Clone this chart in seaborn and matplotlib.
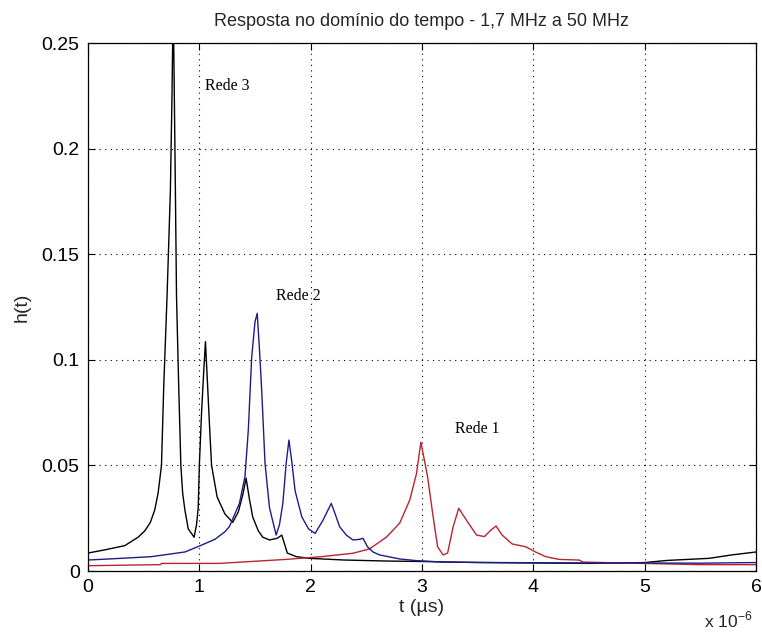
import numpy as np
import pandas as pd
import matplotlib
matplotlib.use("Agg")
import matplotlib.pyplot as plt
import seaborn as sns

# Rede 3 (black)
t_rede3 = [0.00, 0.15, 0.33, 0.45, 0.51, 0.56, 0.60, 0.63, 0.66, 0.68, 0.71, 0.74, 0.755, 0.765,
           0.775, 0.785, 0.795, 0.815, 0.834, 0.85, 0.87, 0.90, 0.953, 0.975, 0.99, 1.00, 1.02, 1.04,
           1.055, 1.075, 1.095, 1.11, 1.16, 1.23, 1.30, 1.35, 1.39, 1.42, 1.45, 1.48, 1.53, 1.57,
           1.63, 1.70, 1.74, 1.77, 1.79, 1.87, 1.99, 2.30, 2.70, 3.00, 3.50, 4.00, 4.50, 5.00,
           5.20, 5.58, 5.78, 6.00]
h_rede3 = [0.0085, 0.0100, 0.0120, 0.0160, 0.0190, 0.0230, 0.0290, 0.0370, 0.0500, 0.0870, 0.1300,
           0.1800, 0.2270, 0.2700, 0.2270, 0.1800, 0.1300, 0.0870, 0.0500, 0.0370, 0.0290, 0.0200,
           0.0160, 0.0220, 0.0300, 0.0500, 0.0750, 0.0950, 0.1086, 0.0870, 0.0650, 0.0500, 0.0350,
           0.0270, 0.0230, 0.0280, 0.0360, 0.0440, 0.0340, 0.0255, 0.0190, 0.0160, 0.0147, 0.0155,
           0.0170, 0.0120, 0.0085, 0.0068, 0.0060, 0.0052, 0.0047, 0.0045, 0.0040, 0.0038, 0.0036,
           0.0040, 0.0050, 0.0060, 0.0076, 0.0090]

# Rede 2 (blue)
t_rede2 = [0.00, 0.30, 0.57, 0.87, 1.00, 1.14, 1.23, 1.27, 1.36, 1.41, 1.44, 1.47, 1.50, 1.52, 1.54,
           1.56, 1.59, 1.63, 1.69, 1.72, 1.75, 1.78, 1.805, 1.83, 1.86, 1.92, 1.98, 2.04, 2.11,
           2.185, 2.22, 2.26, 2.32, 2.38, 2.44, 2.47, 2.51, 2.56, 2.62, 2.80, 2.95, 3.20, 3.70,
           4.40, 5.00, 5.50, 6.00]
h_rede2 = [0.0052, 0.0060, 0.0068, 0.0090, 0.0118, 0.0150, 0.0186, 0.0210, 0.0320, 0.0447, 0.0668,
           0.1010, 0.1180, 0.1220, 0.1050, 0.0857, 0.0510, 0.0300, 0.0170, 0.0220, 0.0320, 0.0510,
           0.0620, 0.0520, 0.0380, 0.0257, 0.0200, 0.0178, 0.0240, 0.0320, 0.0270, 0.0210, 0.0170,
           0.0147, 0.0150, 0.0155, 0.0115, 0.0090, 0.0076, 0.0057, 0.0049, 0.0042, 0.0040, 0.0038,
           0.0038, 0.0037, 0.0040]

# Rede 1 (red)
t_rede1 = [0.00, 0.65, 0.66, 1.18, 1.78, 2.10, 2.38, 2.53, 2.68, 2.80, 2.89, 2.95, 2.99, 3.05, 3.10,
           3.14, 3.19, 3.23, 3.28, 3.33, 3.40, 3.49, 3.56, 3.62, 3.665, 3.72, 3.81, 3.93, 4.02,
           4.11, 4.23, 4.41, 4.45, 4.80, 5.50, 6.00]
h_rede1 = [0.0025, 0.0030, 0.0036, 0.0036, 0.0055, 0.0068, 0.0084, 0.0105, 0.0160, 0.0227, 0.0336,
           0.0460, 0.0610, 0.0447, 0.0257, 0.0115, 0.0076, 0.0085, 0.0210, 0.0297, 0.0240, 0.0170,
           0.0163, 0.0194, 0.0213, 0.0170, 0.0128, 0.0115, 0.0090, 0.0068, 0.0055, 0.0052, 0.0042,
           0.0038, 0.0030, 0.0030]

series_names = ["Rede 3", "Rede 1", "Rede 2"]
series_colors = ["#000000", "#b82530", "#1c1c8a"]
label_pos = {"Rede 3": (1.05, 0.2296), "Rede 2": (1.686, 0.130), "Rede 1": (3.30, 0.0672)}

xticks = [0, 1, 2, 3, 4, 5, 6]
yticks = [0, 0.05, 0.1, 0.15, 0.2, 0.25]
xtick_labels = ["0", "1", "2", "3", "4", "5", "6"]
ytick_labels = ["0", "0.05", "0.1", "0.15", "0.2", "0.25"]

df = pd.concat([
    pd.DataFrame({"t": t_rede3, "h": h_rede3, "rede": "Rede 3"}),
    pd.DataFrame({"t": t_rede1, "h": h_rede1, "rede": "Rede 1"}),
    pd.DataFrame({"t": t_rede2, "h": h_rede2, "rede": "Rede 2"}),
], ignore_index=True)

sns.set_style("white")
plt.rcParams["font.family"] = ["Liberation Sans", "DejaVu Sans"]

fig = plt.figure(figsize=(7.62, 6.34), dpi=100)
ax = fig.add_axes([88 / 762, 63 / 634, 668 / 762, 528 / 634])

sns.lineplot(data=df, x="t", y="h", hue="rede", hue_order=series_names,
             palette=dict(zip(series_names, series_colors)), estimator=None, sort=False,
             legend=False, linewidth=1.0, ax=ax)

ax.set_xlim(0, 6)
ax.set_ylim(0, 0.25)
ax.set_xticks(xticks)
ax.set_xticklabels(xtick_labels)
ax.set_yticks(yticks)
ax.set_yticklabels(ytick_labels)
ax.grid(True, color="black", linestyle=(0, (1, 4)), linewidth=0.8)
ax.tick_params(direction="in", length=5, width=0.8, top=True, right=True,
               bottom=True, left=True, labelsize=14, colors="black", pad=6)
for s in ax.spines.values():
    s.set_visible(True)
    s.set_color("black")
    s.set_linewidth(0.9)

ax.set_xlabel("t (\u00b5s)", fontsize=14, labelpad=2)
ax.set_ylabel("h(t)", fontsize=14, labelpad=8)
ax.set_title("Resposta no dom\u00ednio do tempo - 1,7 MHz a 50 MHz", fontsize=13, pad=12)

for name, (x, y) in label_pos.items():
    ax.text(x, y, name, fontsize=11.5, family=["Liberation Serif", "DejaVu Serif"],
            va="center", ha="left", color="black")

fig.text(704 / 762, 1 - 620 / 634, "x 10$^{\\mathregular{-6}}$", fontsize=12.5, ha="left", va="center")

fig.savefig("out.png", dpi=100)
